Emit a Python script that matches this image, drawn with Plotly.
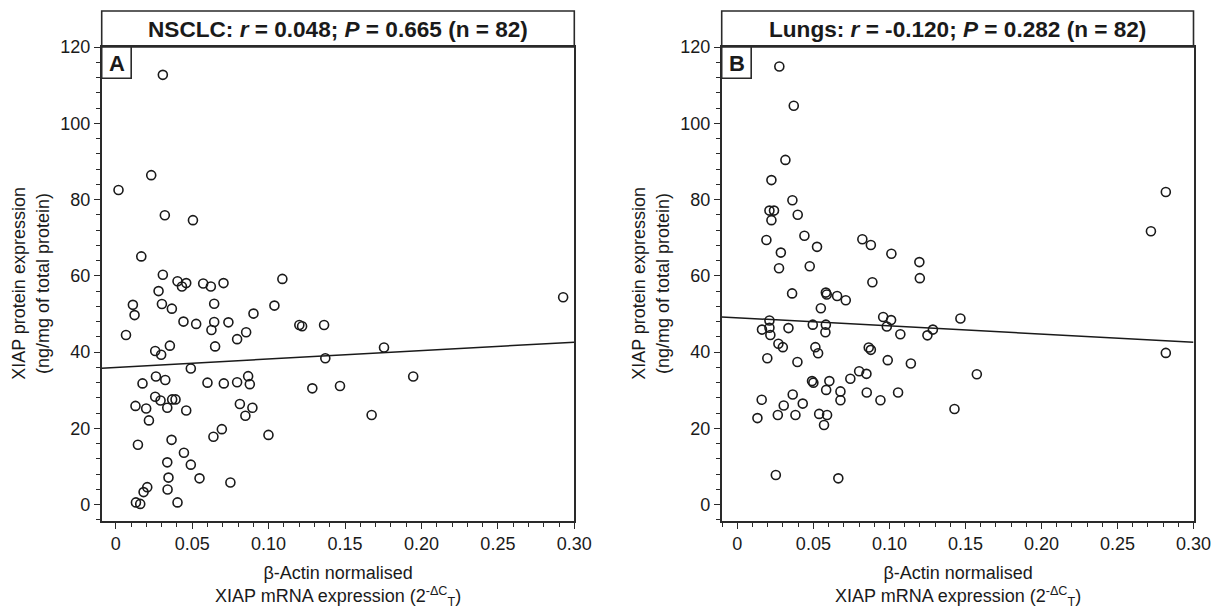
import plotly.graph_objects as go

# ---------------- data ----------------
nsclc_x = [0.0308, 0.0232, 0.0018, 0.0321, 0.0505, 0.0167, 0.0308, 0.0404, 0.0461, 0.0433,
           0.0572, 0.0622, 0.0705, 0.109, 0.028, 0.0112, 0.0123, 0.0302, 0.0367, 0.0644,
           0.0901, 0.1038, 0.0067, 0.0443, 0.0526, 0.0644, 0.0626, 0.0737, 0.0853, 0.0794,
           0.1201, 0.1219, 0.1363, 0.1755, 0.0258, 0.0297, 0.0354, 0.065, 0.0491, 0.1371,
           0.0263, 0.0324, 0.0175, 0.06, 0.0707, 0.0794, 0.0866, 0.0877, 0.1286, 0.1467,
           0.0258, 0.0293, 0.0369, 0.0391, 0.0337, 0.0129, 0.0199, 0.0217, 0.0461, 0.0812,
           0.0894, 0.0848, 0.1674, 0.0999, 0.0145, 0.0365, 0.0694, 0.0639, 0.0446, 0.0491,
           0.0337, 0.0548, 0.075, 0.0345, 0.0339, 0.0206, 0.0182, 0.0132, 0.016, 0.0404,
           0.1946, 0.2927]
nsclc_y = [112.7, 86.4, 82.5, 75.9, 74.6, 65.1, 60.3, 58.6, 58.1, 57.2,
           58.0, 57.2, 58.1, 59.2, 56.0, 52.4, 49.7, 52.6, 51.4, 52.7,
           50.1, 52.2, 44.5, 48.0, 47.4, 47.9, 45.8, 47.8, 45.2, 43.4,
           47.1, 46.8, 47.1, 41.2, 40.3, 39.3, 41.7, 41.5, 35.7, 38.4,
           33.6, 32.7, 31.8, 32.0, 31.8, 32.1, 33.7, 31.6, 30.5, 31.1,
           28.3, 27.3, 27.6, 27.6, 25.4, 25.9, 25.2, 22.1, 24.7, 26.4,
           25.4, 23.3, 23.5, 18.3, 15.7, 17.0, 19.8, 17.8, 13.6, 10.5,
           11.1, 6.9, 5.8, 7.1, 4.0, 4.6, 3.3, 0.6, 0.2, 0.6,
           33.6, 54.4]

lungs_x = [0.0276, 0.0371, 0.0316, 0.0224, 0.0362, 0.0211, 0.0241, 0.0224, 0.0397, 0.0191,
           0.0441, 0.0286, 0.0524, 0.0274, 0.0476, 0.0822, 0.0878, 0.1013, 0.1197, 0.12,
           0.0888, 0.036, 0.0582, 0.0588, 0.0656, 0.0713, 0.0549, 0.0211, 0.0959, 0.1011,
           0.1467, 0.0162, 0.0211, 0.0336, 0.0496, 0.0582, 0.0579, 0.0983, 0.1072, 0.1286,
           0.125, 0.0217, 0.027, 0.0299, 0.0197, 0.0395, 0.0513, 0.0531, 0.0864, 0.0878,
           0.0989, 0.1141, 0.0801, 0.0849, 0.0743, 0.0491, 0.05, 0.0605, 0.0584, 0.0678,
           0.0678, 0.0851, 0.1057, 0.0941, 0.1428, 0.016, 0.0364, 0.0305, 0.043, 0.0132,
           0.0266, 0.0382, 0.0538, 0.059, 0.057, 0.0253, 0.0664, 0.2818, 0.272, 0.1575,
           0.2818]
lungs_y = [114.9, 104.6, 90.4, 85.1, 79.8, 77.1, 77.1, 74.6, 76.0, 69.4,
           70.5, 66.1, 67.6, 62.0, 62.5, 69.6, 68.1, 65.8, 63.6, 59.4,
           58.3, 55.4, 55.6, 55.1, 54.7, 53.6, 51.5, 48.3, 49.2, 48.4,
           48.8, 45.9, 46.4, 46.3, 47.2, 47.2, 45.2, 46.7, 44.7, 45.9,
           44.4, 44.5, 42.2, 41.3, 38.4, 37.4, 41.3, 39.7, 41.2, 40.6,
           37.9, 37.0, 35.0, 34.3, 33.0, 32.4, 32.0, 32.4, 30.1, 29.7,
           27.4, 29.4, 29.4, 27.4, 25.1, 27.5, 28.9, 26.0, 26.5, 22.7,
           23.5, 23.5, 23.8, 23.5, 20.9, 7.8, 6.9, 82.0, 71.7, 34.2,
           39.8]

# regression lines (intercept, slope)
nsclc_fit = (36.0, 22.0)
lungs_fit = (49.0, -21.3)

x_tick_vals = [0, 0.05, 0.10, 0.15, 0.20, 0.25, 0.30]
x_tick_text = ["0", "0.05", "0.10", "0.15", "0.20", "0.25", "0.30"]
y_tick_vals = [0, 20, 40, 60, 80, 100, 120]
y_tick_text = ["0", "20", "40", "60", "80", "100", "120"]

panel_titles = ["<b>NSCLC: <i>r</i> = 0.048; <i>P</i> = 0.665 (n = 82)</b>",
                "<b>Lungs: <i>r</i> = -0.120; <i>P</i> = 0.282 (n = 82)</b>"]
panel_letters = ["A", "B"]
x_title = "β-Actin normalised<br>XIAP mRNA expression (2<sup>-ΔC</sup><sub>T</sub>)"
y_title = "XIAP protein expression<br>(ng/mg of total protein)"

# ---------------- layout geometry ----------------
W, H = 1224, 608
OFF = 8  # page body margin in the browser
FONT = "Liberation Sans, Arial, Helvetica, sans-serif"
INK = "#1a1a1a"
AX = "#2a2a2a"

def fx(p):
    return (p - OFF) / W

def fy(p):
    return 1 - (p - OFF) / H

plot_top, plot_bot = 47.0, 520.7
panels = [
    dict(l=101.7, r=574.3, xmin=-0.0092, ytitle_x=31.0),
    dict(l=721.7, r=1193.5, xmin=-0.0103, ytitle_x=651.0),
]
ymin, ymax = -4.2, 120

fig = go.Figure()
datasets = [(nsclc_x, nsclc_y, nsclc_fit), (lungs_x, lungs_y, lungs_fit)]

shapes = []
annotations = []
for i, ((xs, ys, fit), pn) in enumerate(zip(datasets, panels)):
    xa = "x" if i == 0 else "x2"
    ya = "y" if i == 0 else "y2"
    fig.add_trace(go.Scatter(
        x=xs, y=ys, mode="markers", xaxis=xa, yaxis=ya, showlegend=False,
        marker=dict(symbol="circle-open", size=9, color=INK, line=dict(width=1.6)),
        hoverinfo="x+y"))
    a, b = fit
    lx = [pn["xmin"], 0.30]
    fig.add_trace(go.Scatter(
        x=lx, y=[a + b * v for v in lx], mode="lines", xaxis=xa, yaxis=ya,
        showlegend=False, line=dict(color=INK, width=1.5), hoverinfo="skip"))

    axis_common = dict(
        automargin=False,
        showline=True, mirror=True, linecolor=AX, linewidth=1.6,
        showgrid=False, zeroline=False, ticks="outside", ticklen=6, tickwidth=1.4,
        tickcolor=AX, tickfont=dict(family=FONT, size=18, color=INK),
    )
    xdict = dict(axis_common,
                 domain=[fx(pn["l"]), fx(pn["r"])], range=[pn["xmin"], 0.30],
                 tickmode="array", tickvals=x_tick_vals, ticktext=x_tick_text,
                 minor=dict(dtick=0.01, tick0=0, ticks="outside", ticklen=4,
                            tickwidth=1.2, tickcolor=AX, showgrid=False),
                 anchor=ya)
    ydict = dict(axis_common,
                 domain=[fy(plot_bot), fy(plot_top)], range=[ymin, ymax],
                 tickmode="array", tickvals=y_tick_vals, ticktext=y_tick_text,
                 minor=dict(dtick=4, tick0=0, ticks="outside", ticklen=4,
                            tickwidth=1.2, tickcolor=AX, showgrid=False),
                 anchor=xa)
    if i == 0:
        fig.update_layout(xaxis=xdict, yaxis=ydict)
    else:
        fig.update_layout(xaxis2=xdict, yaxis2=ydict)

    # title box above the plot
    shapes.append(dict(type="rect", xref="paper", yref="paper",
                       x0=fx(pn["l"]), x1=fx(pn["r"]), y0=fy(plot_top), y1=fy(11),
                       line=dict(color=AX, width=1.6), fillcolor="rgba(0,0,0,0)"))
    annotations.append(dict(xref="paper", yref="paper",
                            x=(fx(pn["l"]) + fx(pn["r"])) / 2, y=fy(29.5),
                            xanchor="center", yanchor="middle", showarrow=False,
                            text=panel_titles[i],
                            font=dict(family=FONT, size=22.6, color=INK)))
    # panel letter box
    shapes.append(dict(type="rect", xref="paper", yref="paper",
                       x0=fx(pn["l"]), x1=fx(pn["l"] + 29.5), y0=fy(78.3), y1=fy(plot_top),
                       line=dict(color=AX, width=1.6), fillcolor="white"))
    annotations.append(dict(xref="paper", yref="paper",
                            x=fx(pn["l"] + 14.8), y=fy(63),
                            xanchor="center", yanchor="middle", showarrow=False,
                            text="<b>" + panel_letters[i] + "</b>",
                            font=dict(family=FONT, size=22, color=INK)))
    # axis titles
    annotations.append(dict(xref="paper", yref="paper",
                            x=(fx(pn["l"]) + fx(pn["r"])) / 2, y=fy(585.5),
                            xanchor="center", yanchor="middle", showarrow=False,
                            text=x_title, align="center",
                            font=dict(family=FONT, size=18, color=INK)))
    annotations.append(dict(xref="paper", yref="paper",
                            x=fx(pn["ytitle_x"]), y=fy((plot_top + plot_bot) / 2),
                            xanchor="center", yanchor="middle", showarrow=False,
                            text=y_title, align="center", textangle=-90,
                            font=dict(family=FONT, size=18, color=INK)))

fig.update_layout(
    template="none",
    width=W, height=H, margin=dict(l=0, r=0, t=0, b=0, pad=0),
    paper_bgcolor="white", plot_bgcolor="white",
    shapes=shapes, annotations=annotations,
    font=dict(family=FONT, color=INK),
)

fig.write_html("out.html")
